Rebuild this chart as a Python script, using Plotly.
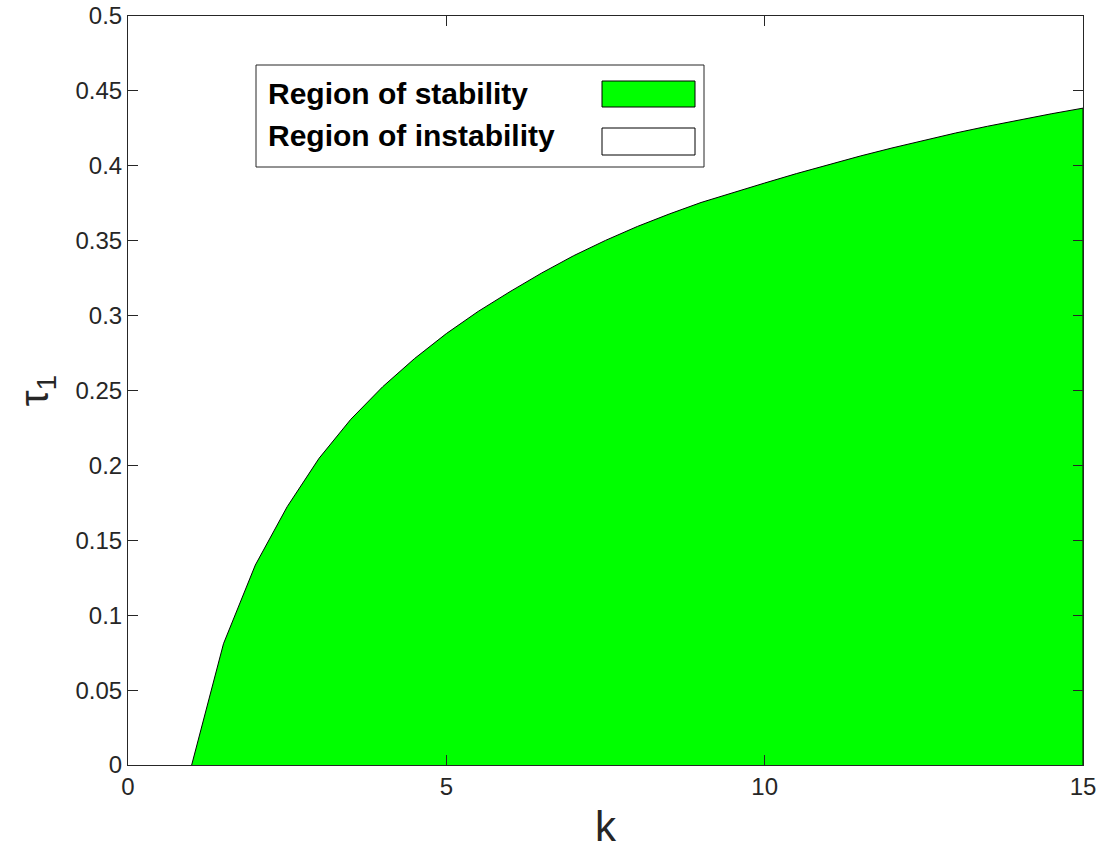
import plotly.graph_objects as go

# Stability boundary tau_1(k)
k_vals = [1, 1.5, 2, 2.5, 3, 3.5, 4, 4.5, 5, 5.5, 6, 6.5, 7, 7.5, 8, 8.5, 9,
          9.5, 10, 10.5, 11, 11.5, 12, 12.5, 13, 13.5, 14, 14.5, 15]
tau_vals = [0, 0.081, 0.1335, 0.1724, 0.2047, 0.2308, 0.2525, 0.2713, 0.2880,
            0.3028, 0.3160, 0.3285, 0.3400, 0.3502, 0.3595, 0.3678, 0.3755,
            0.3822, 0.3885, 0.3948, 0.4007, 0.4065, 0.4119, 0.4171, 0.4219,
            0.4264, 0.4307, 0.4347, 0.4385]

x_ticks = [0, 5, 10, 15]
y_ticks = [0, 0.05, 0.1, 0.15, 0.2, 0.25, 0.3, 0.35, 0.4, 0.45, 0.5]
y_ticktext = ["0", "0.05", "0.1", "0.15", "0.2", "0.25", "0.3", "0.35", "0.4", "0.45", "0.5"]

legend_labels = ["Region of stability", "Region of instability"]
legend_fills = ["#00ff00", "#ffffff"]

W, H = 1102, 860
ML, MR, MT, MB = 128, 19, 16, 95
PW, PH = W - ML - MR, H - MT - MB
FONT = "Liberation Sans, Arial, Helvetica, sans-serif"


def px(xp):
    return (xp - ML) / PW


def py(yp):
    return (H - MB - yp) / PH


fig = go.Figure()
fig.add_trace(go.Scatter(
    x=k_vals + [k_vals[-1]],
    y=tau_vals + [0],
    fill="toself",
    fillcolor="#00ff00",
    mode="lines",
    line=dict(color="black", width=1),
    showlegend=False,
    hoverinfo="skip",
))

axis_common = dict(
    showgrid=False, zeroline=False, showline=True, mirror="ticks",
    ticks="inside", ticklen=10, tickwidth=1, tickcolor="#262626",
    linecolor="#262626", linewidth=1, automargin=False,
    tickfont=dict(family=FONT, size=24, color="#262626"),
)

fig.update_xaxes(range=[0, 15], tickvals=x_ticks, ticktext=[str(v) for v in x_ticks],
                 title=dict(text="k", font=dict(family=FONT, size=42, color="#262626"),
                            standoff=12),
                 **axis_common)
fig.update_yaxes(range=[0, 0.5], tickvals=y_ticks, ticktext=y_ticktext,
                 title=dict(text="τ<sub>1</sub>", font=dict(family=FONT, size=40, color="#262626"),
                            standoff=14),
                 **axis_common)

# Legend box drawn with shapes and text
shapes = [dict(type="rect", xref="paper", yref="paper",
               x0=px(256), x1=px(704), y0=py(167), y1=py(65),
               line=dict(color="#262626", width=1), fillcolor="white", layer="above")]
swatch_rows = [(81, 107), (128, 155)]
text_rows = [93, 135]
annotations = []
for label, fillc, (s0, s1), ty in zip(legend_labels, legend_fills, swatch_rows, text_rows):
    shapes.append(dict(type="rect", xref="paper", yref="paper",
                       x0=px(602), x1=px(695), y0=py(s1), y1=py(s0),
                       line=dict(color="black", width=1), fillcolor=fillc, layer="above"))
    annotations.append(dict(text=f"<b>{label}</b>", xref="paper", yref="paper",
                            x=px(266), y=py(ty), xanchor="left", yanchor="middle",
                            showarrow=False,
                            font=dict(family=FONT, size=30, color="black")))

fig.update_layout(
    width=W, height=H,
    margin=dict(l=ML, r=MR, t=MT, b=MB, autoexpand=False),
    plot_bgcolor="white", paper_bgcolor="white",
    shapes=shapes, annotations=annotations,
    showlegend=False,
)

fig.write_html("out.html")
